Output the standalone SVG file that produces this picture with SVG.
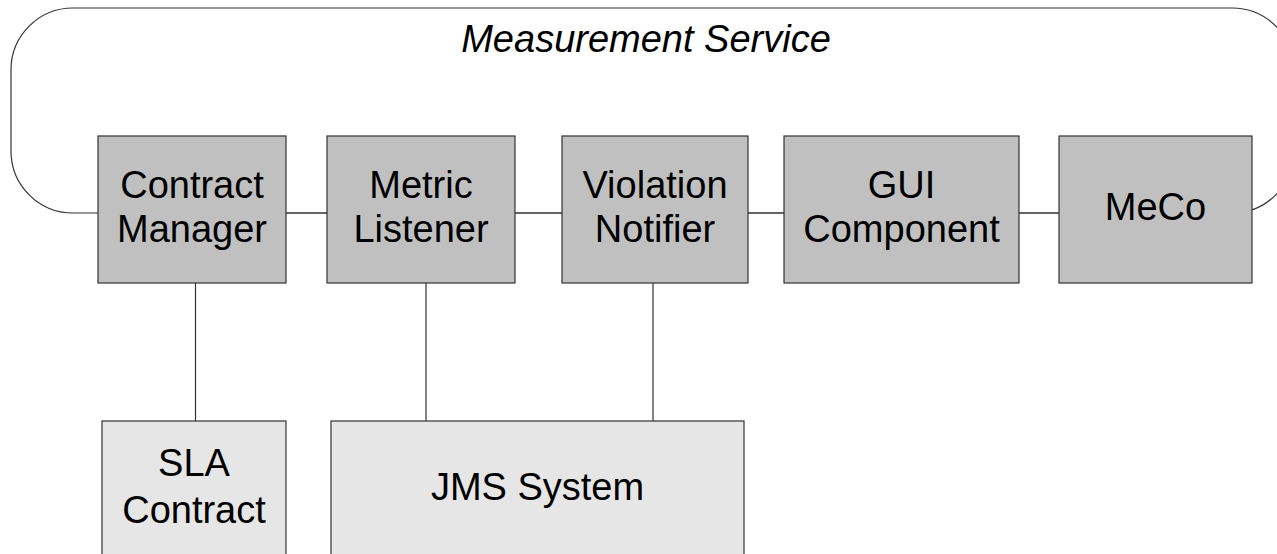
<svg xmlns="http://www.w3.org/2000/svg" width="1277" height="554" viewBox="0 0 1277 554">
<style>
.t{font-family:"Liberation Sans",Arial,sans-serif;font-size:38px;fill:#000;text-anchor:middle}
.top{fill:#c0c0c0;stroke:#333;stroke-width:1.2}
.low{fill:#e6e6e6;stroke:#333;stroke-width:1.2}
.c{stroke:#333;stroke-width:1.2;fill:none}
</style>
<rect width="1277" height="554" fill="#fff"/>
<g id="measurement-service">
<rect x="11" y="8" width="1283" height="205" rx="62" ry="62" fill="none" stroke="#333" stroke-width="1.2"/>
<text class="t" x="646" y="52" font-style="italic" font-size="37">Measurement Service</text>
</g>
<g id="connectors">
<line class="c" x1="286" y1="213" x2="327" y2="213"/>
<line class="c" x1="515" y1="213" x2="562" y2="213"/>
<line class="c" x1="748" y1="213" x2="784" y2="213"/>
<line class="c" x1="1019" y1="213" x2="1059" y2="213"/>
<line class="c" x1="195.5" y1="283" x2="195.5" y2="421"/>
<line class="c" x1="426" y1="283" x2="426" y2="421"/>
<line class="c" x1="653" y1="283" x2="653" y2="421"/>
</g>
<g id="contract-manager">
<rect class="top" x="98" y="136" width="188" height="147"/>
<text class="t" x="192" y="198">Contract</text>
<text class="t" x="192" y="242">Manager</text>
</g>
<g id="metric-listener">
<rect class="top" x="327" y="136" width="188" height="147"/>
<text class="t" x="421" y="198">Metric</text>
<text class="t" x="421" y="242">Listener</text>
</g>
<g id="violation-notifier">
<rect class="top" x="562" y="136" width="186" height="147"/>
<text class="t" x="655" y="198">Violation</text>
<text class="t" x="655" y="242">Notifier</text>
</g>
<g id="gui-component">
<rect class="top" x="784" y="136" width="235" height="147"/>
<text class="t" x="901.5" y="198">GUI</text>
<text class="t" x="901.5" y="242">Component</text>
</g>
<g id="meco">
<rect class="top" x="1059" y="136" width="193" height="147"/>
<text class="t" x="1155.5" y="220">MeCo</text>
</g>
<g id="sla-contract">
<rect class="low" x="102" y="421" width="184" height="145"/>
<text class="t" x="194" y="476">SLA</text>
<text class="t" x="194" y="523">Contract</text>
</g>
<g id="jms-system">
<rect class="low" x="331" y="421" width="413" height="145"/>
<text class="t" x="537.5" y="500">JMS System</text>
</g>
</svg>
